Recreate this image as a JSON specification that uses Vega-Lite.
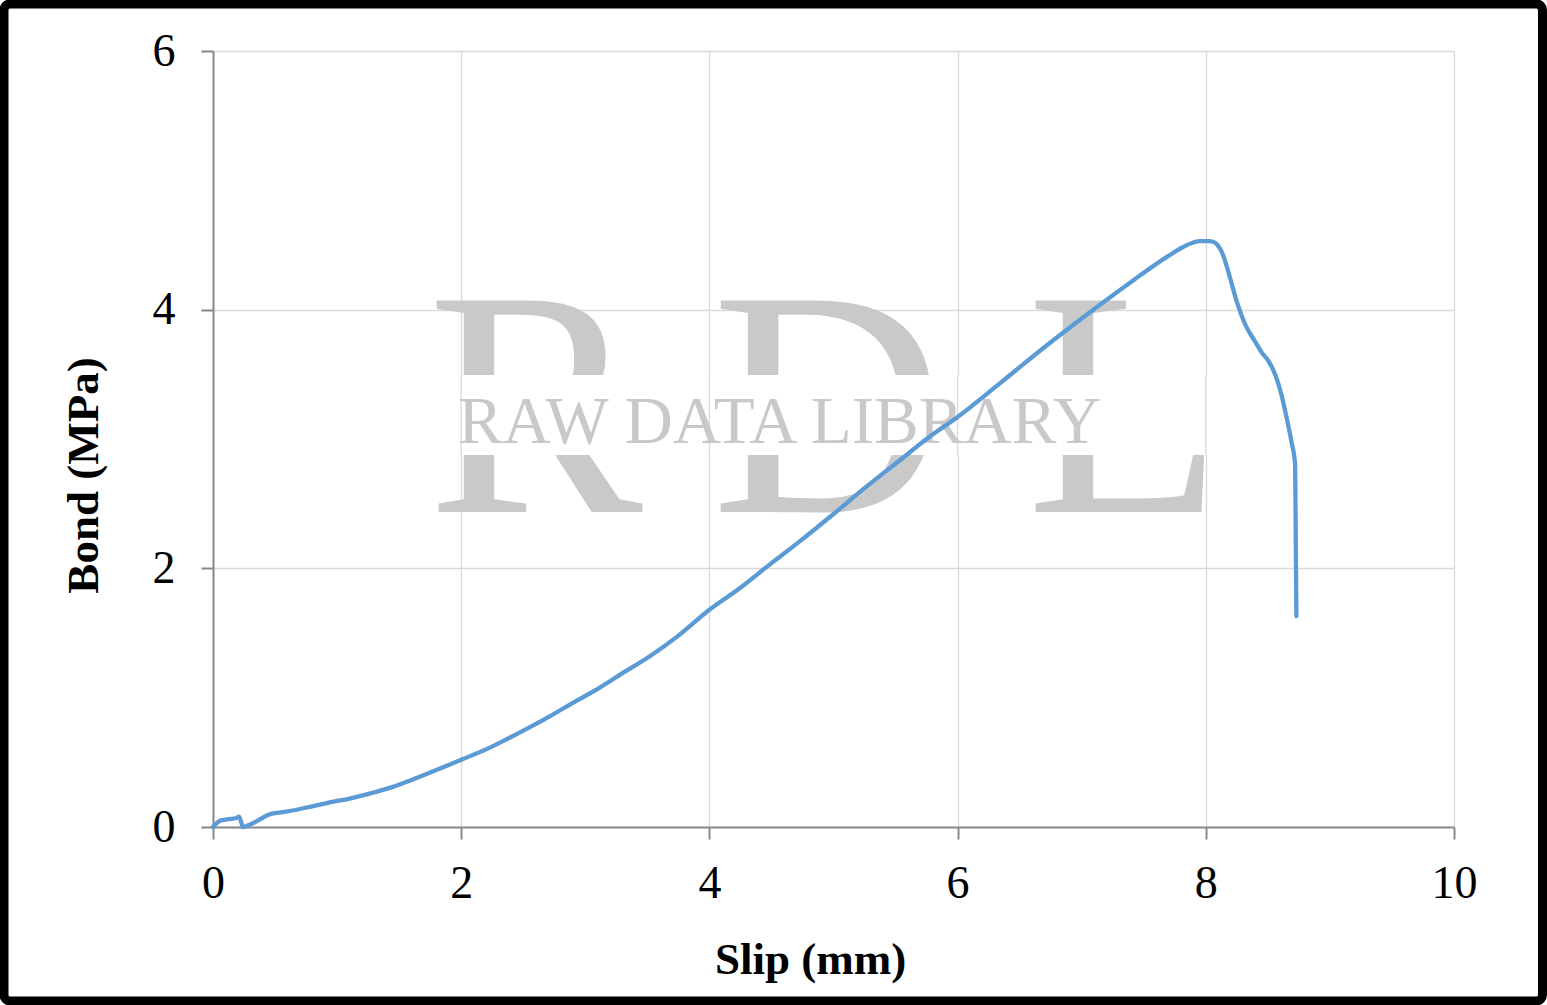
{
  "$schema": "https://vega.github.io/schema/vega-lite/v6.json",
  "width": 1241,
  "height": 776,
  "autosize": {"type": "none"},
  "padding": {"left": 213, "top": 51, "right": 93, "bottom": 178},
  "background": "white",
  "config": {
    "view": {"stroke": null},
    "font": "Liberation Serif"
  },
  "datasets": {
    "curve": [
      {"slip": 0, "bond": 0}, {"slip": 0.03, "bond": 0.03}, {"slip": 0.06, "bond": 0.05}, {"slip": 0.12, "bond": 0.06},
      {"slip": 0.19, "bond": 0.07}, {"slip": 0.21, "bond": 0.08}, {"slip": 0.23, "bond": 0.03}, {"slip": 0.24, "bond": 0.0},
      {"slip": 0.30, "bond": 0.02}, {"slip": 0.38, "bond": 0.06}, {"slip": 0.46, "bond": 0.10}, {"slip": 0.6, "bond": 0.12},
      {"slip": 0.8, "bond": 0.16}, {"slip": 0.94, "bond": 0.19}, {"slip": 1.1, "bond": 0.22}, {"slip": 1.27, "bond": 0.26},
      {"slip": 1.45, "bond": 0.31}, {"slip": 1.59, "bond": 0.36}, {"slip": 1.8, "bond": 0.44}, {"slip": 2.0, "bond": 0.52},
      {"slip": 2.2, "bond": 0.60}, {"slip": 2.39, "bond": 0.69}, {"slip": 2.55, "bond": 0.77}, {"slip": 2.72, "bond": 0.86},
      {"slip": 2.9, "bond": 0.96}, {"slip": 3.12, "bond": 1.08}, {"slip": 3.3, "bond": 1.19}, {"slip": 3.52, "bond": 1.32},
      {"slip": 3.75, "bond": 1.48}, {"slip": 4.0, "bond": 1.68}, {"slip": 4.25, "bond": 1.85}, {"slip": 4.5, "bond": 2.04},
      {"slip": 4.73, "bond": 2.21}, {"slip": 5.0, "bond": 2.42}, {"slip": 5.25, "bond": 2.62}, {"slip": 5.54, "bond": 2.84},
      {"slip": 5.75, "bond": 3.00}, {"slip": 6.0, "bond": 3.17}, {"slip": 6.34, "bond": 3.43}, {"slip": 6.74, "bond": 3.74},
      {"slip": 7.15, "bond": 4.04}, {"slip": 7.42, "bond": 4.23}, {"slip": 7.69, "bond": 4.41}, {"slip": 7.85, "bond": 4.50},
      {"slip": 7.95, "bond": 4.53}, {"slip": 8.03, "bond": 4.53}, {"slip": 8.07, "bond": 4.52}, {"slip": 8.11, "bond": 4.48},
      {"slip": 8.14, "bond": 4.42}, {"slip": 8.17, "bond": 4.33}, {"slip": 8.20, "bond": 4.23}, {"slip": 8.25, "bond": 4.06},
      {"slip": 8.32, "bond": 3.88}, {"slip": 8.40, "bond": 3.75}, {"slip": 8.45, "bond": 3.67}, {"slip": 8.50, "bond": 3.61},
      {"slip": 8.54, "bond": 3.54}, {"slip": 8.57, "bond": 3.47}, {"slip": 8.61, "bond": 3.34}, {"slip": 8.65, "bond": 3.17},
      {"slip": 8.69, "bond": 2.98}, {"slip": 8.72, "bond": 2.80}, {"slip": 8.725, "bond": 2.2}, {"slip": 8.73, "bond": 1.63}
    ],
    "bigmark": [
      {"letter": "R", "slip": 2.595, "bond": 2.436},
      {"letter": "D", "slip": 4.956, "bond": 2.436},
      {"letter": "L", "slip": 7.349, "bond": 2.436}
    ],
    "smallmark": [
      {"label": "RAW DATA LIBRARY", "slip": 4.565, "bond": 2.969}
    ],
    "gridx": [
      {"slip": 2}, {"slip": 4}, {"slip": 6}, {"slip": 8}
    ]
  },
  "layer": [
    {
      "data": {"name": "bigmark"},
      "mark": {"type": "text", "fontSize": 323, "font": "Liberation Serif", "color": "#c9c9c9", "align": "center", "baseline": "alphabetic"},
      "encoding": {
        "x": {"field": "slip", "type": "quantitative", "scale": {"domain": [0, 10]},
          "axis": {"title": "Slip (mm)", "values": [0, 2, 4, 6, 8, 10], "format": "d", "labelFlush": false, "labelOverlap": false,
            "grid": true, "gridColor": "#d9d9d9", "gridWidth": 1.3,
            "domainColor": "#898989", "domainWidth": 2, "tickColor": "#898989", "tickWidth": 2, "tickSize": 12,
            "labelFont": "Liberation Serif", "labelFontSize": 46, "labelColor": "black", "labelPadding": 22,
            "titleFont": "Liberation Serif", "titleFontSize": 45, "titleFontWeight": "bold", "titleColor": "black", "titlePadding": 31,
            "titleX": 597, "titleAlign": "center"}},
        "y": {"field": "bond", "type": "quantitative", "scale": {"domain": [0, 6]},
          "axis": {"title": "Bond (MPa)", "values": [0, 2, 4, 6], "format": "d", "labelFlush": false, "labelOverlap": false,
            "grid": true, "gridColor": "#d9d9d9", "gridWidth": 1.3,
            "domainColor": "#898989", "domainWidth": 2, "tickColor": "#898989", "tickWidth": 2, "tickSize": 12,
            "labelFont": "Liberation Serif", "labelFontSize": 46, "labelColor": "black", "labelPadding": 26,
            "titleFont": "Liberation Serif", "titleFontSize": 45, "titleFontWeight": "bold", "titleColor": "black", "titlePadding": 46,
            "titleY": 424, "titleAlign": "center"}},
        "text": {"field": "letter"}
      }
    },
    {
      "data": {"values": [{}]},
      "mark": {"type": "rect", "fill": "white"},
      "encoding": {
        "x": {"datum": 1.70},
        "x2": {"datum": 8.12},
        "y": {"datum": 2.876},
        "y2": {"datum": 3.495}
      }
    },
    {
      "data": {"name": "gridx"},
      "mark": {"type": "rule", "color": "#d9d9d9", "strokeWidth": 1.3},
      "encoding": {
        "x": {"field": "slip", "type": "quantitative"},
        "y": {"datum": 2.876},
        "y2": {"datum": 3.495}
      }
    },
    {
      "data": {"name": "smallmark"},
      "mark": {"type": "text", "fontSize": 67, "font": "Liberation Serif", "color": "#c9c9c9", "align": "center", "baseline": "alphabetic"},
      "encoding": {
        "x": {"field": "slip", "type": "quantitative"},
        "y": {"field": "bond", "type": "quantitative"},
        "text": {"field": "label"}
      }
    },
    {
      "data": {"name": "curve"},
      "mark": {"type": "line", "color": "#5b9bd5", "strokeWidth": 4.3, "strokeJoin": "round", "strokeCap": "round", "interpolate": "monotone"},
      "encoding": {
        "x": {"field": "slip", "type": "quantitative"},
        "y": {"field": "bond", "type": "quantitative"},
        "order": {"field": "slip", "type": "quantitative"}
      }
    },
    {
      "data": {"values": [{}]},
      "mark": {"type": "rect", "fill": null, "fillOpacity": 0, "stroke": "black", "strokeWidth": 9, "cornerRadius": 6},
      "encoding": {
        "x": {"datum": -1.684},
        "x2": {"datum": 10.713},
        "y": {"datum": -1.345},
        "y2": {"datum": 6.364}
      }
    }
  ]
}
